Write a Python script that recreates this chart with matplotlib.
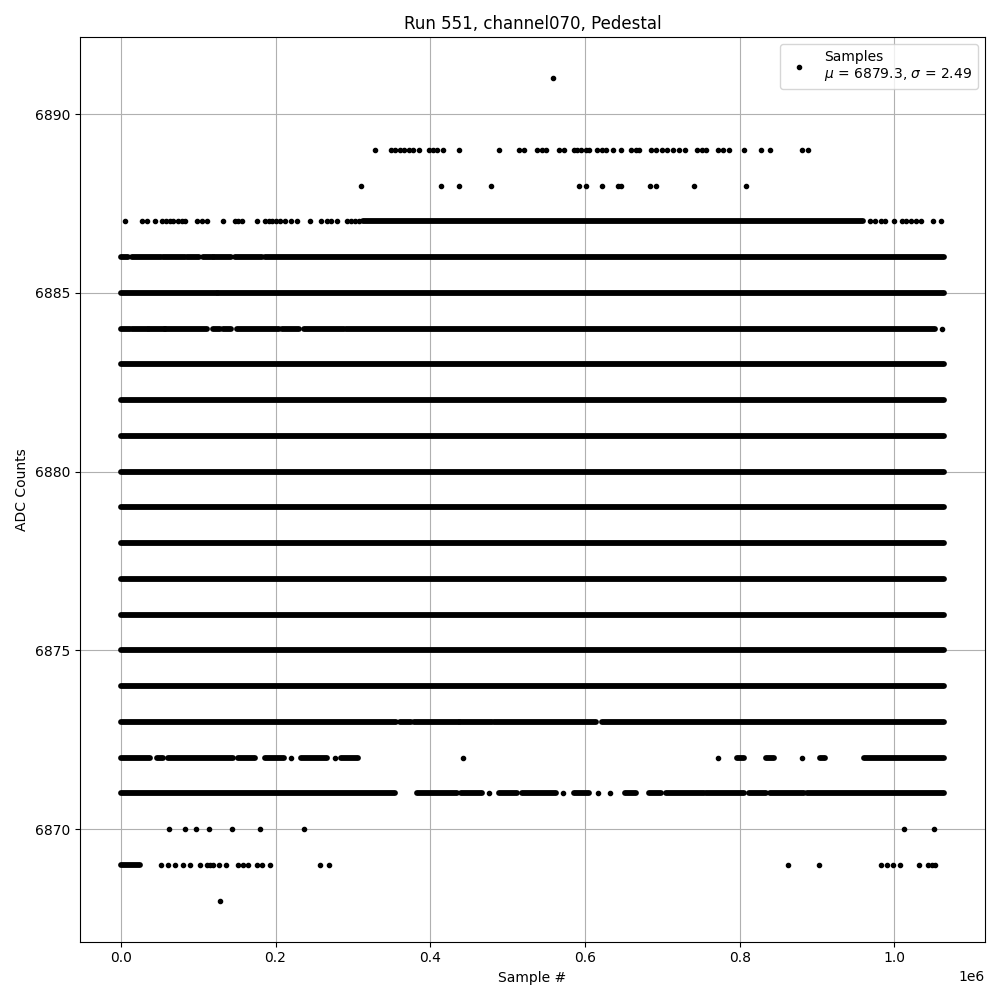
import numpy as np
import matplotlib.pyplot as plt

# values, x in units of 1e6 samples
run_number = 551
channel = "channel070"
mean_adc = 6879.3
sigma_adc = 2.49
x_first = 0.0
x_last = 1.064

# levels that are filled over the whole run
full_levels = [6883, 6882, 6881, 6880, 6879, 6878, 6877, 6876, 6875, 6874]

# levels with dense stretches (start, end)
dense_runs = {
    6887: [(0.3135, 0.960)],
    6886: [(0.0, 0.009), (0.014, 0.052), (0.054, 0.083), (0.085, 0.1006),
           (0.106, 0.119), (0.121, 0.143), (0.147, 0.183), (0.186, 1.064)],
    6885: [(0.0, 0.1239), (0.1252, 1.064)],
    6884: [(0.0, 0.0116), (0.014, 0.035), (0.037, 0.057), (0.057, 0.111),
           (0.1187, 0.128), (0.1316, 0.143), (0.150, 0.205), (0.208, 0.231),
           (0.237, 0.289), (0.2916, 1.053)],
    6873: [(0.0, 0.356), (0.361, 0.3755), (0.3794, 0.437), (0.439, 0.480),
           (0.483, 0.614), (0.622, 1.064)],
    6872: [(0.0, 0.0374), (0.0465, 0.054), (0.0606, 0.1445), (0.151, 0.173),
           (0.186, 0.2116), (0.2335, 0.267), (0.285, 0.306), (0.797, 0.805),
           (0.8335, 0.844), (0.9045, 0.911), (0.961, 1.064)],
    6871: [(0.0, 0.355), (0.383, 0.435), (0.440, 0.467), (0.489, 0.512),
           (0.519, 0.5626), (0.586, 0.605), (0.6516, 0.666), (0.6826, 0.698),
           (0.7045, 0.7535), (0.757, 0.805), (0.8116, 0.8335), (0.8387, 0.8826),
           (0.8877, 1.064)],
    6869: [(0.0, 0.0245)],
}

# isolated samples
single_dots = {
    6891: [0.5587],
    6889: [0.329, 0.3497, 0.3548, 0.3613, 0.366, 0.373, 0.378, 0.386,
           0.3987, 0.404, 0.409, 0.4168, 0.4374, 0.489, 0.515, 0.521,
           0.538, 0.5445, 0.55, 0.566, 0.573, 0.586, 0.590, 0.595, 0.601,
           0.605, 0.6155, 0.622, 0.627, 0.636, 0.6465, 0.659, 0.666, 0.670,
           0.685, 0.692, 0.699, 0.706, 0.7135, 0.721, 0.729, 0.7445, 0.751,
           0.756, 0.7716, 0.778, 0.786, 0.805, 0.827, 0.8387, 0.880, 0.889],
    6888: [0.311, 0.414, 0.4374, 0.4787, 0.592, 0.601, 0.622, 0.6426,
           0.6465, 0.684, 0.6916, 0.7406, 0.8077],
    6887: [0.005, 0.027, 0.0335, 0.044, 0.053, 0.058, 0.063, 0.068, 0.074,
           0.079, 0.083, 0.098, 0.1045, 0.112, 0.132, 0.147, 0.152, 0.157,
           0.1755, 0.186, 0.191, 0.196, 0.201, 0.206, 0.212, 0.2206, 0.228,
           0.245, 0.259, 0.266, 0.272, 0.280, 0.293, 0.298, 0.303, 0.308,
           0.969, 0.9755, 0.983, 0.988, 1.000, 1.010, 1.0155, 1.022, 1.0284,
           1.0348, 1.0503, 1.0606],
    6884: [1.062],
    6872: [0.2206, 0.2774, 0.4426, 0.7716, 0.880],
    6871: [0.476, 0.5716, 0.617, 0.632],
    6870: [0.0623, 0.083, 0.0972, 0.114, 0.1436, 0.1797, 0.2365, 1.012, 1.0507],
    6869: [0.0516, 0.0606, 0.0697, 0.080, 0.089, 0.102, 0.111, 0.1148,
           0.1187, 0.1265, 0.1355, 0.151, 0.1574, 0.164, 0.1755, 0.183,
           0.1923, 0.258, 0.2697, 0.863, 0.902, 0.983, 0.990, 0.9987, 1.0077,
           1.032, 1.044, 1.049, 1.053],
    6868: [0.128],
}

fig, ax = plt.subplots(figsize=(10, 10))

seg_y, seg_x0, seg_x1 = [], [], []
for lvl in full_levels:
    seg_y.append(lvl)
    seg_x0.append(x_first)
    seg_x1.append(x_last)
for lvl, runs in dense_runs.items():
    for a, b in runs:
        seg_y.append(lvl)
        seg_x0.append(a)
        seg_x1.append(b)
ax.hlines(seg_y, np.array(seg_x0) * 1e6, np.array(seg_x1) * 1e6,
          colors="black", linewidth=4.2, capstyle="round")

dx, dy = [], []
for lvl, xs in single_dots.items():
    dx += xs
    dy += [lvl] * len(xs)
ax.plot(np.array(dx) * 1e6, dy, ".", color="black",
        label=f"Samples\n$\\mu$ = {mean_adc}, $\\sigma$ = {sigma_adc}")

# keep autoscale the same as if the whole run was plotted
ax.set_xlim(-0.0532e6, 1.1172e6)
ax.set_ylim(6866.85, 6892.15)

ax.set_title(f"Run {run_number}, {channel}, Pedestal")
ax.set_xlabel("Sample #")
ax.set_ylabel("ADC Counts")
ax.legend(loc="upper right")
ax.grid(True)
plt.tight_layout()
plt.savefig("out.png", dpi=100)
